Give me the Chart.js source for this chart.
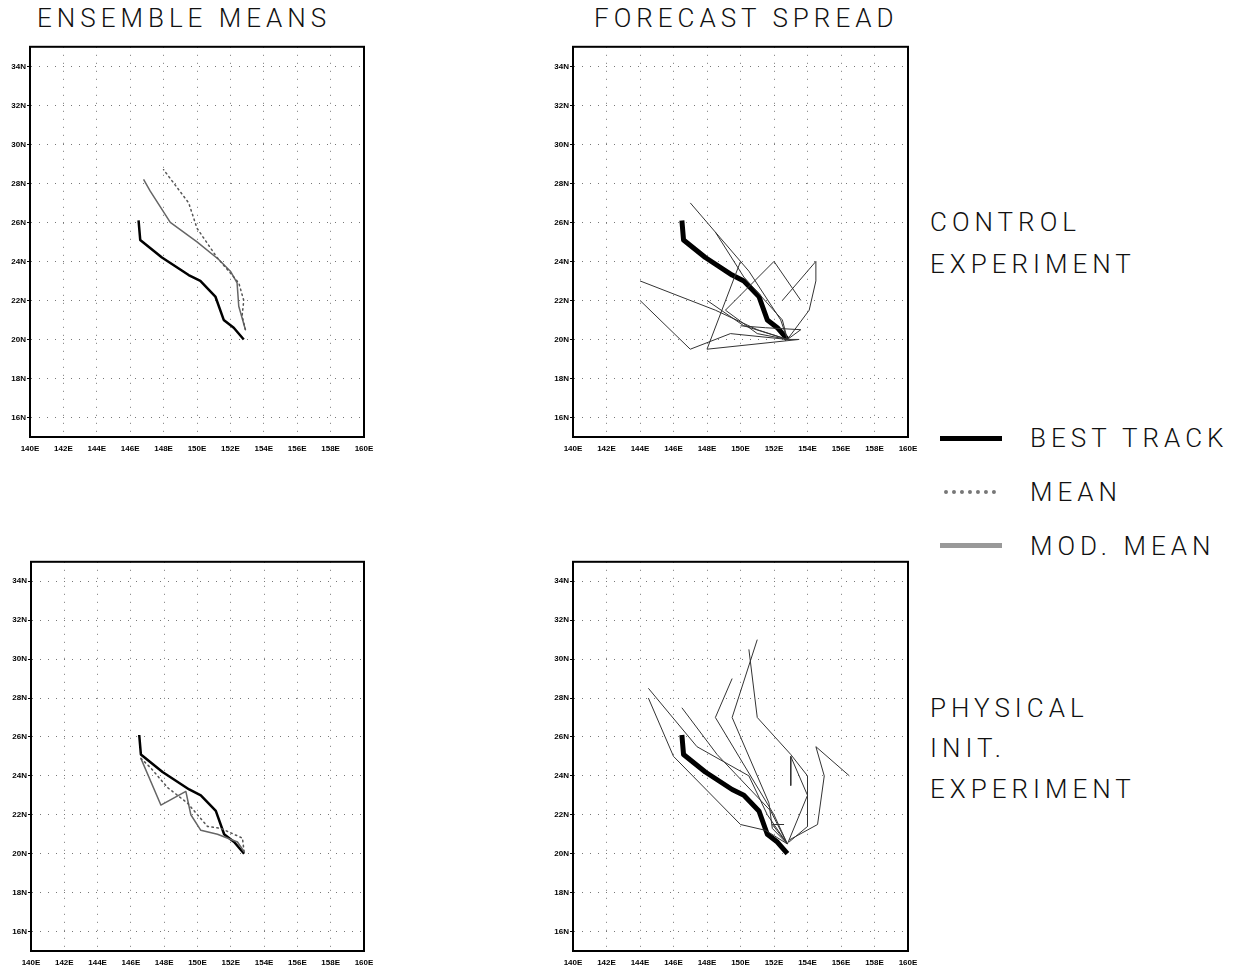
<!DOCTYPE html>
<html lang="en">
<head>
    <meta charset="UTF-8">
    <title>Ensemble track forecasts</title>
    <script src="https://cdn.jsdelivr.net/npm/chart.js"></script>
    <style>
        body {
            margin: 0;
            background: #fff;
            width: 1237px;
            height: 967px;
            position: relative;
            overflow: hidden;
            font-family: Roboto, "Liberation Sans", sans-serif;
        }
        canvas {
            position: absolute;
        }
        .label {
            position: absolute;
            font-size: 26px;
            font-weight: 300;
            line-height: 26px;
            letter-spacing: 5px;
            color: #111;
            white-space: nowrap;
        }
        .sample {
            position: absolute;
        }
    </style>
</head>
<body>
    <div class="label" style="left:37px; top:5px;">ENSEMBLE MEANS</div>
    <div class="label" style="left:594px; top:5px;">FORECAST SPREAD</div>

    <div class="label" style="left:930px; top:209px;">CONTROL</div>
    <div class="label" style="left:930px; top:251px;">EXPERIMENT</div>

    <div class="sample" style="left:940px; top:436px; width:62px; height:5px; background:#000;"></div>
    <div class="label" style="left:1030px; top:425px;">BEST TRACK</div>
    <div class="sample" style="left:944px; top:490px; width:52px; border-top:4px dotted #777;"></div>
    <div class="label" style="left:1030px; top:479px;">MEAN</div>
    <div class="sample" style="left:940px; top:543px; width:62px; height:5px; background:#999;"></div>
    <div class="label" style="left:1030px; top:533px;">MOD. MEAN</div>

    <div class="label" style="left:930px; top:695px;">PHYSICAL</div>
    <div class="label" style="left:930px; top:735px;">INIT.</div>
    <div class="label" style="left:930px; top:776px;">EXPERIMENT</div>

    <canvas id="ctrlMeans"></canvas>
    <canvas id="ctrlSpread"></canvas>
    <canvas id="physMeans"></canvas>
    <canvas id="physSpread"></canvas>

    <script>
        // axis ticks
        const lonTicks = [140, 142, 144, 146, 148, 150, 152, 154, 156, 158, 160];
        const latTicks = [16, 18, 20, 22, 24, 26, 28, 30, 32, 34];

        // tracks as [lon, lat]
        const bestTrack = [[152.8, 20.0], [152.2, 20.6], [151.6, 21.0], [151.1, 22.2], [150.2, 23.0],
                           [149.5, 23.3], [147.9, 24.2], [146.6, 25.1], [146.5, 26.1]];

        const ctrlMean = [[152.9, 20.5], [152.7, 21.2], [152.8, 22.0], [152.5, 22.9], [151.2, 24.2],
                          [150.0, 25.7], [149.5, 27.0], [148.0, 28.7]];
        const ctrlModMean = [[152.9, 20.5], [152.5, 21.7], [152.4, 22.9], [152.0, 23.5], [151.3, 24.1],
                             [150.0, 25.0], [148.4, 26.0], [147.2, 27.6], [146.8, 28.2]];

        const physMean = [[152.8, 20.1], [152.7, 20.8], [151.4, 21.3], [150.6, 21.4], [149.4, 22.6],
                          [148.2, 23.4], [147.2, 24.4], [146.6, 24.9]];
        const physModMean = [[152.8, 20.1], [152.4, 20.6], [151.2, 21.0], [150.2, 21.2], [149.6, 22.0],
                             [149.3, 23.2], [147.8, 22.5], [146.6, 24.9]];

        const ctrlMembers = [
            [[152.8, 20.0], [152.4, 21.0], [150.5, 23.5], [147.0, 27.0]],
            [[152.8, 20.0], [152.5, 21.0], [150.2, 23.2], [148.5, 25.5]],
            [[152.8, 20.0], [153.5, 20.0], [148.0, 19.5], [150.0, 24.0]],
            [[152.8, 20.0], [151.0, 20.5], [148.5, 21.5], [144.0, 23.0]],
            [[152.8, 20.0], [149.4, 20.3], [147.0, 19.5], [144.0, 22.0]],
            [[152.8, 20.0], [154.1, 21.5], [154.5, 23.0], [154.5, 24.0], [152.5, 22.0]],
            [[152.8, 20.0], [151.0, 20.3], [149.1, 21.5], [152.0, 24.0], [153.6, 22.0]],
            [[152.8, 20.0], [150.2, 20.7], [148.0, 22.0]],
            [[152.8, 20.0], [153.6, 20.5], [151.5, 20.6], [150.0, 20.7]]
        ];

        const physMembers = [
            [[152.8, 20.5], [151.6, 22.0], [150.5, 24.0], [147.4, 25.5], [144.5, 28.5]],
            [[152.8, 20.5], [151.5, 21.2], [150.0, 21.5], [146.0, 25.0], [144.5, 28.0]],
            [[152.8, 20.5], [151.8, 22.2], [148.6, 25.1], [146.5, 27.5]],
            [[152.8, 20.5], [152.0, 22.0], [148.5, 27.0], [149.5, 29.0]],
            [[152.8, 20.5], [151.9, 21.3], [151.7, 22.6], [149.5, 27.0], [151.0, 31.0]],
            [[152.9, 20.6], [154.0, 21.4], [154.0, 24.0], [153.0, 25.1], [151.0, 27.0], [150.5, 30.5]],
            [[152.9, 20.7], [154.6, 21.5], [155.0, 24.0], [154.5, 25.5], [156.5, 24.0]],
            [[152.8, 20.5], [154.0, 23.0], [153.0, 25.0], [153.0, 23.5]],
            [[152.8, 20.5], [151.9, 21.5], [152.6, 21.5]]
        ];

        const toPoints = track => track.map(p => ({x: p[0], y: p[1]}));
        const tickFont = {family: '"Liberation Sans", Arial, sans-serif', size: 8, weight: 'bold'};
        const AXIS_W = 30;
        const AXIS_H = 24;
        const PAD_R = 22;

        // black box round the plot area
        const framePlugin = {
            id: 'frame',
            afterDraw(chart) {
                const {ctx, chartArea} = chart;
                ctx.save();
                ctx.strokeStyle = '#000';
                ctx.lineWidth = 2;
                ctx.strokeRect(chartArea.left, chartArea.top, chartArea.right - chartArea.left, chartArea.bottom - chartArea.top);
                ctx.restore();
            }
        };

        function panelOptions() {
            return {
                responsive: false,
                animation: false,
                layout: {padding: {left: 0, right: PAD_R, top: 4, bottom: 0}},
                plugins: {legend: {display: false}, tooltip: {enabled: false}},
                elements: {point: {radius: 0}, line: {tension: 0}},
                scales: {
                    x: {
                        type: 'linear', min: 140, max: 160,
                        afterBuildTicks: s => { s.ticks = lonTicks.map(v => ({value: v})); },
                        afterFit: s => { s.height = AXIS_H; },
                        ticks: {callback: v => v + 'E', font: tickFont, color: '#000', padding: 7, maxRotation: 0, autoSkip: false},
                        grid: {color: '#777', lineWidth: 1, drawTicks: false},
                        border: {display: true, color: '#000', width: 2, dash: [1, 7]}
                    },
                    y: {
                        type: 'linear', min: 15, max: 35,
                        afterBuildTicks: s => { s.ticks = latTicks.map(v => ({value: v})); },
                        afterFit: s => { s.width = AXIS_W; },
                        ticks: {callback: v => v + 'N', font: tickFont, color: '#000', padding: 1, autoSkip: false},
                        grid: {color: '#777', lineWidth: 1, tickLength: 3, tickColor: '#000'},
                        border: {display: true, color: '#000', width: 2, dash: [1, 7]}
                    }
                }
            };
        }

        function line(track, color, width, dash) {
            return {
                data: toPoints(track),
                showLine: true,
                borderColor: color,
                borderWidth: width,
                borderDash: dash || [],
                borderCapStyle: dash ? 'round' : 'butt',
                borderJoinStyle: 'round',
                pointRadius: 0,
                fill: false
            };
        }

        function makePanel(id, left, top, plotW, plotH, datasets) {
            const cv = document.getElementById(id);
            const w = plotW + AXIS_W + PAD_R;
            const h = plotH + 4 + AXIS_H;
            cv.width = w;
            cv.height = h;
            cv.style.left = (left - AXIS_W) + 'px';
            cv.style.top = (top - 4) + 'px';
            cv.style.width = w + 'px';
            cv.style.height = h + 'px';
            return new Chart(cv, {
                type: 'scatter',
                data: {datasets: datasets},
                options: panelOptions(),
                plugins: [framePlugin]
            });
        }

        makePanel('ctrlMeans', 30, 45, 334, 392, [
            line(ctrlMean, '#555', 1.5, [1.5, 3.5]),
            line(ctrlModMean, '#666', 1.5),
            line(bestTrack, '#000', 2.5)
        ]);

        makePanel('ctrlSpread', 573, 45, 335, 392,
            ctrlMembers.map(t => line(t, '#333', 1)).concat([line(bestTrack, '#000', 5)]));

        makePanel('physMeans', 31, 560, 333, 391, [
            line(physMean, '#555', 1.5, [1.5, 3.5]),
            line(physModMean, '#666', 1.5),
            line(bestTrack, '#000', 2.5)
        ]);

        makePanel('physSpread', 573, 560, 335, 391,
            physMembers.map(t => line(t, '#333', 1)).concat([line(bestTrack, '#000', 5)]));
    </script>
</body>
</html>
